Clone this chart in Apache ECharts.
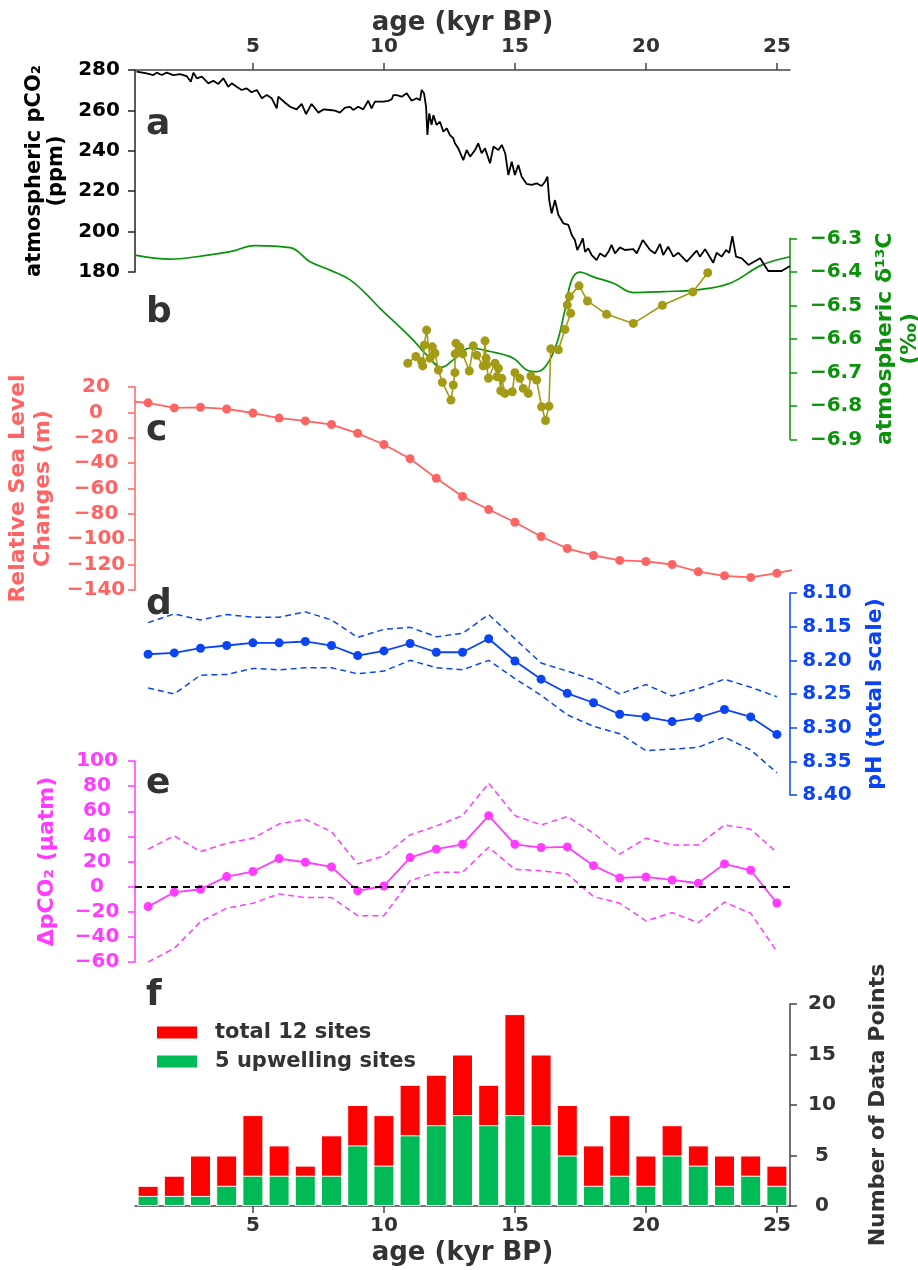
<!DOCTYPE html>
<html><head><meta charset="utf-8">
<script src="https://cdn.jsdelivr.net/npm/echarts@6/dist/echarts.min.js"></script>
<style>html,body{margin:0;padding:0;background:#fff}#c{width:918px;height:1270px}</style>
</head><body><div id="c"></div>
<script>
// ---------- DATA ----------
const co2Age = [0.56,0.95,1.20,1.33,1.52,1.71,1.96,2.22,2.47,2.63,2.73,2.86,3.05,3.30,3.49,3.68,3.87,4.06,4.19,4.38,4.57,4.76,4.95,5.15,5.34,5.53,5.72,5.91,5.97,6.23,6.42,6.67,6.86,7.03,7.24,7.50,7.69,7.94,8.13,8.32,8.52,8.71,8.83,9.02,9.21,9.40,9.53,9.66,9.98,10.17,10.30,10.36,10.49,10.68,10.87,11.06,11.25,11.38,11.44,11.53,11.61,11.66,11.73,11.82,11.89,12.01,12.14,12.27,12.40,12.52,12.65,12.71,12.84,12.90,13.03,13.16,13.29,13.48,13.60,13.73,13.86,14.05,14.18,14.37,14.50,14.63,14.75,14.88,15.00,15.13,15.26,15.45,15.64,15.83,16.02,16.15,16.24,16.31,16.40,16.53,16.66,16.85,17.04,17.17,17.29,17.38,17.51,17.59,17.68,17.80,17.93,18.12,18.25,18.44,18.57,18.69,18.82,19.01,19.20,19.52,19.65,19.88,20.16,20.35,20.54,20.66,20.85,21.05,21.24,21.56,21.94,22.06,22.26,22.57,22.70,22.89,23.06,23.18,23.30,23.44,23.66,23.91,24.36,24.67,25.18,25.50];
const co2 = [279.2,278.3,277.5,278.7,277.5,278.7,277.5,278,277,274.2,278.7,275.9,276.7,273.4,274.7,273.1,275.9,271.7,273.4,271.7,270.1,270.9,269,270.1,266,267.6,266,261,266.8,263.8,261.8,260.5,263.2,258.2,263.2,258.9,260.5,260.2,259.9,258.9,261.4,261.8,260.2,261.8,260.5,264.8,261,264.3,264.3,264.7,265.5,267.6,267.6,266.8,268.5,264.8,266,265.1,270.1,268.5,261.8,247.8,258.5,252.8,257.7,252.8,254.4,249.5,251.1,247.8,246.2,243.7,241.2,240.4,235.4,240.4,237.1,240.4,243.7,238.8,241.2,233.8,242.1,240.4,242.9,238.8,228,234.6,228,233,227.2,223.6,223.1,223.9,222.6,224.7,227.2,215.6,209,215.6,208.2,204.1,203.3,198.3,195.8,190.9,194.2,196.7,190,191.7,188.4,185.9,189.2,187.6,190,193.4,189.2,192.2,190.9,191.3,189.2,195.8,190.9,189.2,193.9,188.4,192.5,187.6,189.5,185.1,190.6,187.6,191.3,184.6,189.5,187.6,190.9,189.5,197.8,187.6,186.8,183.5,186.8,180.5,180.5,183];

const d13cAge = [0.5,1.84,2.85,4.13,5.08,6.42,7.18,7.94,8.71,9.28,9.85,10.61,11.12,11.63,12.21,12.65,13.29,14.05,14.94,15.45,15.83,16.21,16.60,16.91,17.17,17.48,17.99,18.76,19.52,20.66,21.94,23.21,24.42,25.5];
const d13c = [-6.350,-6.362,-6.355,-6.340,-6.322,-6.328,-6.370,-6.395,-6.424,-6.463,-6.509,-6.565,-6.604,-6.648,-6.685,-6.663,-6.628,-6.638,-6.658,-6.693,-6.698,-6.678,-6.613,-6.514,-6.424,-6.401,-6.415,-6.434,-6.462,-6.459,-6.454,-6.434,-6.380,-6.355];

const iceAge = [10.91,11.22,11.44,11.48,11.54,11.63,11.76,11.85,11.95,12.08,12.23,12.56,12.65,12.71,12.72,12.75,12.90,13.01,13.26,13.41,13.54,13.79,13.86,13.90,13.92,13.99,14.24,14.31,14.37,14.46,14.50,14.62,14.90,15.00,15.19,15.32,15.51,15.61,15.83,16.02,16.17,16.30,16.37,16.66,16.91,17.13,17.00,17.08,17.45,17.77,18.50,19.52,20.63,21.79,22.36];
const iceD13c = [-6.673,-6.653,-6.668,-6.681,-6.619,-6.574,-6.658,-6.624,-6.643,-6.693,-6.730,-6.783,-6.738,-6.701,-6.645,-6.613,-6.625,-6.645,-6.696,-6.621,-6.649,-6.681,-6.606,-6.658,-6.678,-6.718,-6.673,-6.713,-6.688,-6.755,-6.718,-6.763,-6.758,-6.701,-6.718,-6.748,-6.763,-6.711,-6.723,-6.803,-6.844,-6.801,-6.630,-6.633,-6.572,-6.524,-6.499,-6.474,-6.442,-6.487,-6.527,-6.554,-6.500,-6.460,-6.403];

const seaAge = [0,1,2,3,4,5,6,7,8,9,10,11,12,13,14,15,16,17,18,19,20,21,22,23,24,25,26];
const seaLevel = [9.3,7.5,3.5,4.0,2.7,-0.5,-4.5,-6.7,-9.6,-16.5,-25.3,-36.5,-52.0,-66.3,-76.6,-86.6,-97.8,-107.3,-112.8,-116.7,-117.5,-119.9,-125.6,-128.8,-130.1,-126.7,-122.5];

const ages = [1,2,3,4,5,6,7,8,9,10,11,12,13,14,15,16,17,18,19,20,21,22,23,24,25];
const pH      = [8.191,8.189,8.182,8.178,8.174,8.174,8.172,8.178,8.193,8.186,8.175,8.188,8.188,8.168,8.201,8.228,8.249,8.263,8.280,8.284,8.291,8.285,8.273,8.284,8.310];
const pHUpper = [8.144,8.131,8.140,8.132,8.136,8.136,8.128,8.140,8.166,8.154,8.151,8.165,8.160,8.132,8.168,8.204,8.216,8.229,8.250,8.236,8.253,8.242,8.228,8.240,8.254];
const pHLower = [8.241,8.250,8.222,8.221,8.212,8.214,8.211,8.211,8.220,8.216,8.200,8.211,8.214,8.200,8.227,8.252,8.281,8.298,8.309,8.334,8.332,8.329,8.314,8.333,8.367];

const dpco2      = [-15.9,-4.5,-2.1,8.0,12.0,22.3,19.4,15.7,-3.4,0.5,23.1,29.8,33.7,56.5,33.7,31.1,31.6,16.7,6.9,7.7,5.3,2.7,18.1,13.0,-13.0];
const dpco2Upper = [29.8,40.4,27.9,34.5,38.5,49.9,53.6,43.8,18.1,24.4,41.2,48.3,56.5,82.3,56.5,49.1,55.7,42.5,25.8,38.5,33.2,33.2,49.1,45.7,27.1];
const dpco2Lower = [-60,-49.1,-27.9,-17.2,-13.2,-5.8,-8.7,-8.7,-23.1,-23.1,4.8,11.4,11.4,31.3,13.8,12.7,10.1,-7.9,-13.2,-27.3,-20.7,-28.7,-12.4,-21.2,-51.7];

const totalSites     = [2,3,5,5,9,6,4,7,10,9,12,13,15,12,19,15,10,6,9,5,8,6,5,5,4];
const upwellingSites = [1,1,1,2,3,3,3,3,6,4,7,8,9,8,9,8,5,2,3,2,5,4,2,3,2];

const ageTicks = [5,10,15,20,25];
const panelLetters = ['a','b','c','d','e','f'];

// ---------- STYLE ----------
const FONT = 'DejaVu Sans';
const GREEN = '#0a920a', OLIVE = '#a39a15', SALMON = '#ff6464', BLUE = '#0a44f5', MAGENTA = '#ff3cff', DARK = '#333333';
const zip = (xs, ys) => xs.map((x, i) => [x, ys[i]]);
const fmt = d => v => (d == null ? String(v) : Number(v).toFixed(d)).replace('-', '\u2212');

const gridTops = [70, 238.3, 387, 593, 761, 1004];
const gridHeights = [202, 201, 203, 202, 201, 202];
const grids = gridTops.map((t, i) => ({left: 135, width: 655, top: t, height: gridHeights[i], containLabel: false, outerBoundsMode: 'none'}));

const xAxes = grids.map((g, i) => {
  const shown = (i === 0 || i === 5);
  return {
    type: 'value', gridIndex: i, min: 0.5, max: 25.5, show: shown,
    position: i === 0 ? 'top' : 'bottom',
    splitLine: {show: false},
    axisLine: {show: true, onZero: false, lineStyle: {color: '#444', width: 1.5}},
    axisTick: {show: true, customValues: ageTicks, length: 7, lineStyle: {color: '#444', width: 1.5}},
    axisLabel: {show: true, customValues: ageTicks, color: DARK, fontFamily: FONT, fontWeight: 'bold', fontSize: 20, margin: i === 0 ? 13 : 10},
    name: 'age (kyr BP)', nameLocation: 'middle', nameGap: 34,
    nameTextStyle: {color: DARK, fontFamily: FONT, fontWeight: 'bold', fontSize: 26}
  };
});

function yAx(o) {
  return {
    type: 'value', gridIndex: o.grid, position: o.pos, min: o.min, max: o.max, interval: o.interval,
    inverse: !!o.inverse, splitLine: {show: false},
    axisLine: {show: true, onZero: false, lineStyle: {color: o.line || o.color, width: 1.5}},
    axisTick: {show: true, length: 7, lineStyle: {color: o.line || o.color, width: 1.5}},
    axisLabel: {color: o.color, fontFamily: FONT, fontWeight: 'bold', fontSize: 20, align: 'center', margin: o.margin, formatter: fmt(o.dec)},
    name: o.name, nameLocation: 'middle', nameGap: o.nameGap, nameRotate: 90,
    nameTextStyle: {color: o.color, fontFamily: FONT, fontWeight: 'bold', fontSize: o.nameSize || 22, lineHeight: o.lh || 25, align: 'center'}
  };
}

const yAxes = [
  yAx({grid: 0, pos: 'left', min: 180, max: 280, interval: 20, color: '#000', line: '#222', margin: 36, name: 'atmospheric pCO\u2082\n(ppm)', nameGap: 66, nameSize: 21, lh: 22}),
  yAx({grid: 1, pos: 'right', min: -6.9, max: -6.3, interval: 0.1, color: GREEN, dec: 1, margin: 46, name: 'atmospheric \u03b4\u00b9\u00b3C\n(\u2030)', nameGap: 75}),
  yAx({grid: 2, pos: 'left', min: -140, max: 20, interval: 20, color: SALMON, margin: 39, name: 'Relative Sea Level\nChanges (m)', nameGap: 76}),
  yAx({grid: 3, pos: 'right', min: 8.10, max: 8.40, interval: 0.05, inverse: true, color: BLUE, dec: 2, margin: 37, name: 'pH (total scale)', nameGap: 69}),
  yAx({grid: 4, pos: 'left', min: -60, max: 100, interval: 20, color: MAGENTA, margin: 38, name: '\u0394pCO\u2082 (\u03bcatm)', nameGap: 75}),
  yAx({grid: 5, pos: 'right', min: 0, max: 20, interval: 5, color: DARK, line: '#444', margin: 32, name: 'Number of Data Points', nameGap: 76})
];

const dashed = (color) => ({color: color, width: 1.5, type: [6, 4]});

const series = [
  {type: 'line', xAxisIndex: 0, yAxisIndex: 0, data: zip(co2Age, co2), symbol: 'none', lineStyle: {color: '#000', width: 1.8}, z: 3},
  {type: 'line', xAxisIndex: 1, yAxisIndex: 1, data: zip(d13cAge, d13c), symbol: 'none', smooth: 0.4, lineStyle: {color: GREEN, width: 1.7}, z: 2},
  {type: 'line', xAxisIndex: 1, yAxisIndex: 1, data: zip(iceAge, iceD13c), symbol: 'circle', symbolSize: 9, itemStyle: {color: OLIVE}, lineStyle: {color: OLIVE, width: 1.6}, z: 4},
  {type: 'line', xAxisIndex: 2, yAxisIndex: 2, data: zip(seaAge, seaLevel), symbol: 'circle', symbolSize: 9, itemStyle: {color: SALMON}, lineStyle: {color: SALMON, width: 1.8}},
  {type: 'line', xAxisIndex: 3, yAxisIndex: 3, data: zip(ages, pH), symbol: 'circle', symbolSize: 9, itemStyle: {color: BLUE}, lineStyle: {color: BLUE, width: 1.8}},
  {type: 'line', xAxisIndex: 3, yAxisIndex: 3, data: zip(ages, pHUpper), symbol: 'none', lineStyle: dashed(BLUE)},
  {type: 'line', xAxisIndex: 3, yAxisIndex: 3, data: zip(ages, pHLower), symbol: 'none', lineStyle: dashed(BLUE)},
  {type: 'line', xAxisIndex: 4, yAxisIndex: 4, data: zip(ages, dpco2), symbol: 'circle', symbolSize: 9, itemStyle: {color: MAGENTA}, lineStyle: {color: MAGENTA, width: 1.8},
    markLine: {silent: true, symbol: 'none', label: {show: false}, lineStyle: {color: '#000', width: 1.8, type: [7, 5]}, data: [{yAxis: 0}]}},
  {type: 'line', xAxisIndex: 4, yAxisIndex: 4, data: zip(ages, dpco2Upper), symbol: 'none', lineStyle: dashed(MAGENTA)},
  {type: 'line', xAxisIndex: 4, yAxisIndex: 4, data: zip(ages, dpco2Lower), symbol: 'none', lineStyle: dashed(MAGENTA)},
  {type: 'bar', name: 'total 12 sites', xAxisIndex: 5, yAxisIndex: 5, data: zip(ages, totalSites), barWidth: 21, barGap: '-100%', itemStyle: {color: '#ff0000', borderColor: '#fff', borderWidth: 1}},
  {type: 'bar', name: '5 upwelling sites', xAxisIndex: 5, yAxisIndex: 5, data: zip(ages, upwellingSites), barWidth: 21, barGap: '-100%', itemStyle: {color: '#00bb55', borderColor: '#fff', borderWidth: 1}}
];

const letterY = [125, 313, 431, 605, 784, 996];
const graphic = panelLetters.map((t, i) => ({
  type: 'text', x: 146, y: letterY[i], z: 100,
  style: {text: t, font: 'bold 36px "DejaVu Sans"', fill: DARK, verticalAlign: 'middle', textVerticalAlign: 'middle'}
}));

const chart = echarts.init(document.getElementById('c'), null, {renderer: 'canvas'});
chart.setOption({
  animation: false,
  backgroundColor: '#fff',
  textStyle: {fontFamily: FONT},
  grid: grids,
  xAxis: xAxes,
  yAxis: yAxes,
  legend: {
    data: ['total 12 sites', '5 upwelling sites'], orient: 'vertical', left: 150, top: 1017,
    itemWidth: 42, itemHeight: 14, itemGap: 8, icon: 'rect',
    textStyle: {color: DARK, fontFamily: FONT, fontWeight: 'bold', fontSize: 21, padding: [0, 0, 0, 12]}
  },
  graphic: graphic,
  series: series
});
</script>
</body></html>
